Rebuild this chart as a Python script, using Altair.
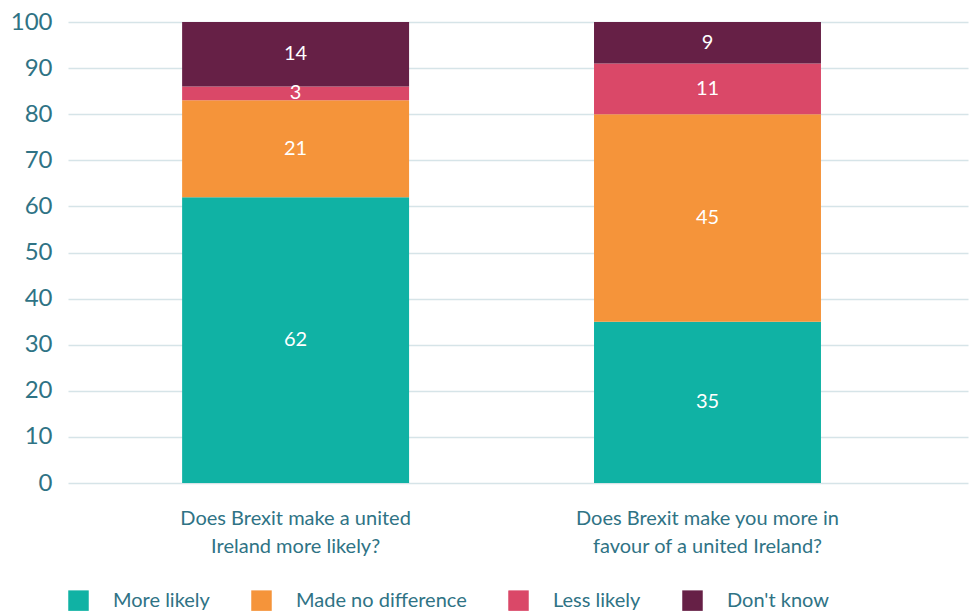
import altair as alt
import pandas as pd

questions = ["Does Brexit make a united|Ireland more likely?",
             "Does Brexit make you more in|favour of a united Ireland?"]
responses = ["More likely", "Made no difference", "Less likely", "Don't know"]
colors = ["#10B2A4", "#F5943A", "#DA4868", "#662046"]
q1_values = [62, 21, 3, 14]
q2_values = [35, 45, 11, 9]

rows = []
for q, vals in zip(questions, [q1_values, q2_values]):
    for i, (r, v) in enumerate(zip(responses, vals)):
        rows.append({"question": q, "response": r, "value": v, "order": i})
df = pd.DataFrame(rows)

axis_color = "#2F7385"
font = "Lato"

base = alt.Chart(df).transform_stack(
    stack="value", as_=["y0", "y1"], groupby=["question"],
    sort=[alt.SortField("order", order="ascending")]
).transform_calculate(mid="(datum.y0 + datum.y1) / 2")

x_enc = alt.X("question:N", sort=questions, title=None,
              scale=alt.Scale(paddingInner=0.449, paddingOuter=0.317, align=0.437),
              axis=alt.Axis(labelExpr="split(datum.label, '|')", labelAngle=0,
                            labelFontSize=20, labelColor=axis_color, labelFont=font,
                            labelLineHeight=28, labelPadding=25, ticks=False,
                            domain=False, grid=False, labelBaseline="top",
                            labelLimit=0))

bars = base.mark_bar().encode(
    x=x_enc,
    y=alt.Y("y0:Q", title=None, scale=alt.Scale(domain=[0, 100], nice=False),
            axis=alt.Axis(values=list(range(0, 101, 10)), ticks=False, domain=False,
                          labelFontSize=24, labelColor=axis_color, labelFont=font,
                          labelPadding=16, gridColor="#D6E4E8", gridWidth=1.5)),
    y2="y1:Q",
    color=alt.Color("response:N", sort=responses,
                    scale=alt.Scale(domain=responses, range=colors),
                    legend=alt.Legend(title=None, orient="none", legendX=0, legendY=568,
                                      direction="horizontal", symbolType="square",
                                      symbolSize=420, symbolStrokeWidth=0,
                                      labelFontSize=20, labelColor=axis_color,
                                      labelFont=font, labelOffset=24, labelLimit=0,
                                      columnPadding=41, padding=0)),
)

labels = base.mark_text(color="white", fontSize=20, font=font).encode(
    x=alt.X("question:N", sort=questions),
    y=alt.Y("mid:Q"),
    text=alt.Text("value:Q"),
)

chart = alt.layer(bars, labels).properties(
    width=900, height=461,
    autosize=alt.AutoSizeParams(type="none"),
    padding={"left": 68, "top": 22, "right": 6, "bottom": 128},
).configure_view(stroke=None)

chart.save("out.html", embed_options={"renderer": "svg", "actions": False})
